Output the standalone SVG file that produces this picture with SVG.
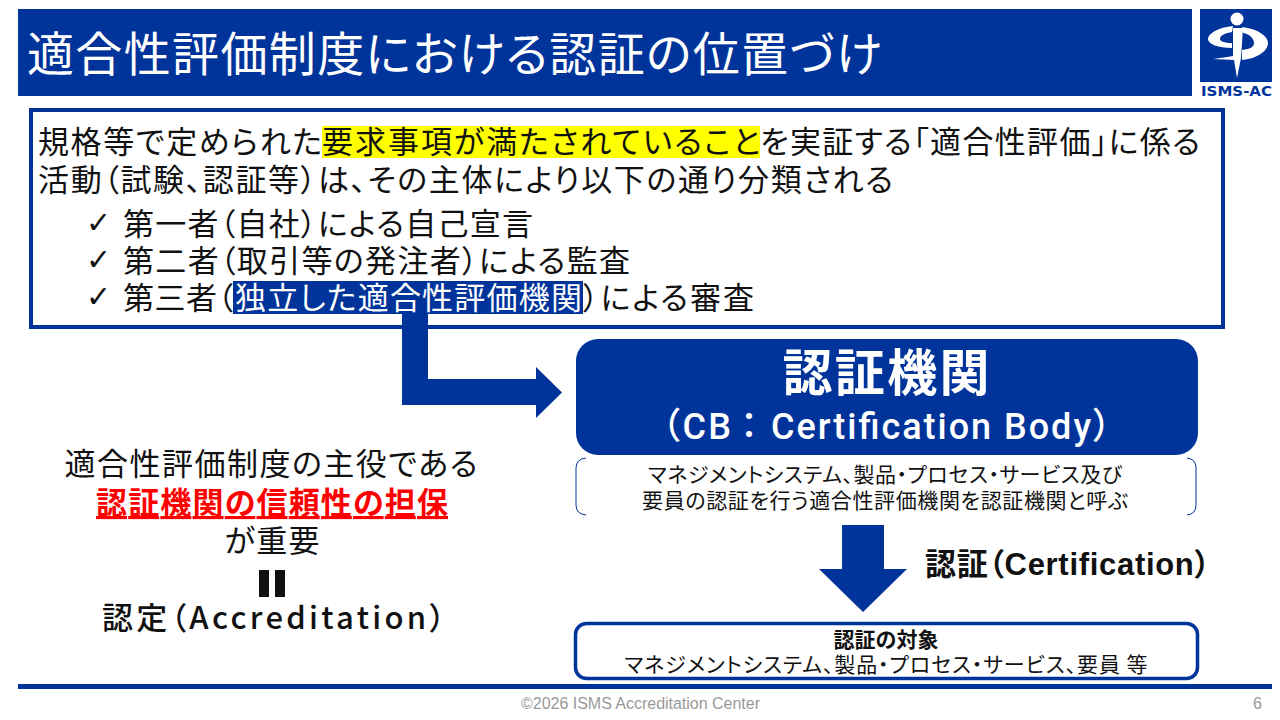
<svg xmlns="http://www.w3.org/2000/svg" width="1280" height="720" viewBox="0 0 1280 720">
<style>
text{font-family:"Noto Sans CJK JP","Liberation Sans",sans-serif;fill:#111;font-feature-settings:"palt";}
.b{font-size:31px}
.w{fill:#fff}
.m{font-size:21px}
.bold{font-weight:700}
.blue{fill:#00349a}
.chk{font-family:"DejaVu Sans",sans-serif;font-size:30px}
.lat{font-family:"Liberation Sans","Noto Sans CJK JP",sans-serif}
.rob{font-family:Roboto,"Noto Sans CJK JP",sans-serif;font-weight:500;font-size:36px}
.foot{font-family:"Liberation Sans",sans-serif;font-size:16px;fill:#999}
</style>
<rect width="1280" height="720" fill="#fff"/>
<g id="title">
<rect class="blue" x="18" y="9" width="1174" height="87"/>
<text class="w" x="27" y="71" font-size="47" textLength="855">適合性評価制度における認証の位置づけ</text>
</g>
<g id="logo">
<rect class="blue" x="1200" y="9" width="72" height="73"/>
<circle cx="1237" cy="19" r="6.500" fill="#fff"/>
<path fill="#fff" d="M1233 26C1215 28 1208 35 1208 39C1208 44 1218 48 1232 48L1232 43C1224 43 1220 41 1220 39C1220 35 1226 33 1232 32Z"/>
<path fill="#fff" d="M1242 27C1258 29 1268 36 1268 43C1268 52 1255 59 1242 60L1242 50C1250 49 1254 47 1254 43C1254 38 1249 34 1243 33Z"/>
<path fill="#fff" d="M1233 28L1243 28L1241 58L1237 78L1234 60L1213 59C1220 58 1228 57 1233 56Z"/>
<text x="1201" y="96" font-size="14" font-weight="700" style="font-family:'DejaVu Sans',sans-serif;fill:#00349a" textLength="71" lengthAdjust="spacingAndGlyphs">ISMS-AC</text>
</g>
<g id="intro">
<rect x="31" y="110" width="1192" height="217" fill="#fff" stroke="#00349a" stroke-width="4"/>
<rect x="322" y="126" width="438" height="32" fill="#ffff00"/>
<rect class="blue" x="233" y="281" width="350" height="33"/>
<text class="b" x="38" y="153" textLength="284">規格等で定められた</text>
<text class="b" x="322" y="153" textLength="438">要求事項が満たされていること</text>
<text class="b" x="760" y="153" textLength="440">を実証する「適合性評価」に係る</text>
<text class="b" x="38" y="191" textLength="855">活動（試験、認証等）は、その主体により以下の通り分類される</text>
<text class="chk" x="86" y="233">✓</text>
<text class="chk" x="86" y="270">✓</text>
<text class="chk" x="86" y="307">✓</text>
<text class="b" x="123" y="235" textLength="410">第一者（自社）による自己宣言</text>
<text class="b" x="123" y="272" textLength="507">第二者（取引等の発注者）による監査</text>
<text class="b" x="123" y="309" textLength="110">第三者（</text>
<text class="b w" x="235" y="309" textLength="347">独立した適合性評価機関</text>
<text class="b" x="583" y="309" textLength="171">）による審査</text>
</g>
<g id="connectors">
<path class="blue" d="M402 313H428V379H536V367L562 392.500L536 418V405H402Z"/>
<path class="blue" d="M842 525H884V569H907L863 612L819 569H842Z"/>
</g>
<g id="cb">
<rect class="blue" x="576" y="339" width="622" height="116" rx="22"/>
<text class="w bold" x="886" y="391" font-size="50" text-anchor="middle" textLength="207">認証機関</text>
<text class="w rob" x="662" y="439" textLength="69">（CB</text>
<text class="w rob" x="749" y="439" text-anchor="middle">：</text>
<text class="w rob" x="771" y="439" textLength="340">Certification Body）</text>
</g>
<g id="cb-note">
<path fill="none" stroke="#00349a" stroke-width="1" d="M586 458Q576 459 576 468V505Q576 514 586 515M1187 458Q1196 459 1196 468V505Q1196 514 1187 515"/>
<text class="m" x="885" y="482" text-anchor="middle" textLength="474">マネジメントシステム、製品・プロセス・サービス及び</text>
<text class="m" x="885" y="508" text-anchor="middle" textLength="486">要員の認証を行う適合性評価機関を認証機関と呼ぶ</text>
</g>
<g id="cert-label">
<text class="bold lat" x="925" y="575" font-size="31" textLength="285">認証（Certification）</text>
</g>
<g id="target">
<rect x="575.500" y="623.500" width="622" height="55" rx="11" fill="#fff" stroke="#00349a" stroke-width="3.500"/>
<text class="m bold" x="886" y="647" text-anchor="middle" textLength="105">認証の対象</text>
<text class="m" x="886" y="672" text-anchor="middle" textLength="523">マネジメントシステム、製品・プロセス・サービス、要員 等</text>
</g>
<g id="left-note">
<text class="b" x="271" y="475" text-anchor="middle" textLength="413">適合性評価制度の主役である</text>
<text class="b bold" x="272" y="514" text-anchor="middle" textLength="352" style="fill:#f00;text-decoration:underline">認証機関の信頼性の担保</text>
<text class="b" x="272" y="552" text-anchor="middle" textLength="95">が重要</text>
<rect x="259" y="570" width="10" height="27" fill="#111"/>
<rect x="275" y="570" width="10" height="27" fill="#111"/>
<text class="b" font-weight="500" x="102" y="629" textLength="343">認定（Accreditation）</text>
</g>
<g id="footer">
<rect class="blue" x="18" y="684" width="1254" height="5"/>
<text class="foot" x="521" y="709" textLength="239">©2026 ISMS Accreditation Center</text>
<text class="foot" x="1253" y="709">6</text>
</g>
</svg>
